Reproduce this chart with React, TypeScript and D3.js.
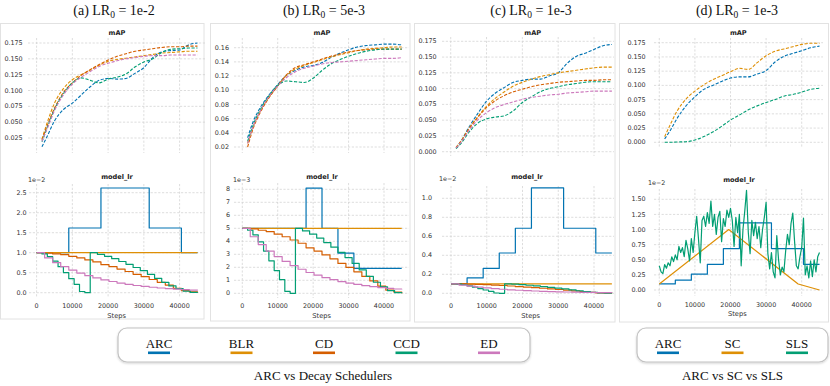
import React from 'react';
import * as d3 from 'd3';

// ---------- data ----------
const X_TICKS = [0, 10000, 20000, 30000, 40000];
const MAP_STEPS = [1500, 3000, 5000, 7500, 10000, 12500, 15000, 17500, 20000, 22500, 25000, 27500, 30000, 32500, 35000, 37500, 40000, 42500, 45000];

// (a) LR0 = 1e-2
const mapA_ARC = [0.011, 0.028, 0.052, 0.070, 0.080, 0.093, 0.106, 0.116, 0.119, 0.118, 0.119, 0.127, 0.136, 0.152, 0.161, 0.163, 0.164, 0.172, 0.175];
const mapA_BLR = [0.023, 0.050, 0.080, 0.103, 0.117, 0.125, 0.132, 0.140, 0.146, 0.149, 0.151, 0.153, 0.155, 0.157, 0.159, 0.160, 0.161, 0.162, 0.162];
const mapA_CD = [0.022, 0.045, 0.072, 0.097, 0.112, 0.124, 0.133, 0.141, 0.148, 0.154, 0.158, 0.162, 0.164, 0.166, 0.168, 0.169, 0.169, 0.170, 0.170];
const mapA_CCD = [0.019, 0.042, 0.070, 0.095, 0.112, 0.120, 0.116, 0.112, 0.118, 0.121, 0.126, 0.137, 0.145, 0.150, 0.160, 0.165, 0.166, 0.167, 0.167];
const mapA_ED = [0.020, 0.040, 0.068, 0.093, 0.110, 0.121, 0.130, 0.138, 0.143, 0.147, 0.150, 0.152, 0.154, 0.155, 0.155, 0.156, 0.156, 0.156, 0.156];

// (b) LR0 = 5e-3
const mapB_ARC = [0.033, 0.055, 0.075, 0.093, 0.108, 0.121, 0.128, 0.133, 0.135, 0.139, 0.146, 0.152, 0.157, 0.161, 0.163, 0.164, 0.165, 0.165, 0.164];
const mapB_BLR = [0.025, 0.048, 0.070, 0.090, 0.106, 0.121, 0.130, 0.135, 0.139, 0.143, 0.147, 0.150, 0.153, 0.156, 0.158, 0.159, 0.160, 0.161, 0.161];
const mapB_CD = [0.020, 0.045, 0.068, 0.089, 0.106, 0.122, 0.132, 0.136, 0.140, 0.144, 0.148, 0.151, 0.154, 0.156, 0.157, 0.158, 0.158, 0.158, 0.158];
const mapB_CCD = [0.028, 0.050, 0.072, 0.092, 0.107, 0.113, 0.112, 0.111, 0.117, 0.128, 0.137, 0.143, 0.148, 0.152, 0.155, 0.157, 0.158, 0.158, 0.158];
const mapB_ED = [0.025, 0.048, 0.070, 0.091, 0.106, 0.118, 0.126, 0.131, 0.134, 0.137, 0.139, 0.140, 0.141, 0.142, 0.143, 0.144, 0.145, 0.145, 0.146];

// (c) LR0 = 1e-3
const mapC_ARC = [0.006, 0.018, 0.038, 0.060, 0.080, 0.093, 0.102, 0.110, 0.113, 0.115, 0.115, 0.120, 0.125, 0.140, 0.151, 0.156, 0.162, 0.168, 0.170];
const mapC_BLR = [0.007, 0.018, 0.036, 0.055, 0.072, 0.085, 0.095, 0.104, 0.110, 0.115, 0.119, 0.122, 0.125, 0.127, 0.129, 0.131, 0.133, 0.134, 0.134];
const mapC_CD = [0.006, 0.017, 0.035, 0.054, 0.070, 0.081, 0.089, 0.095, 0.099, 0.103, 0.106, 0.108, 0.110, 0.111, 0.112, 0.113, 0.113, 0.114, 0.114];
const mapC_CCD = [0.005, 0.014, 0.030, 0.045, 0.052, 0.055, 0.057, 0.065, 0.078, 0.087, 0.095, 0.100, 0.103, 0.106, 0.108, 0.110, 0.111, 0.111, 0.111];
const mapC_ED = [0.006, 0.016, 0.033, 0.050, 0.062, 0.070, 0.075, 0.079, 0.083, 0.086, 0.088, 0.090, 0.091, 0.093, 0.094, 0.095, 0.096, 0.096, 0.096];

// (d) LR0 = 1e-3
const mapD_ARC = [0.006, 0.020, 0.042, 0.064, 0.080, 0.093, 0.100, 0.107, 0.113, 0.115, 0.115, 0.120, 0.126, 0.141, 0.151, 0.156, 0.161, 0.166, 0.169];
const mapD_SC = [0.010, 0.030, 0.055, 0.076, 0.090, 0.101, 0.110, 0.117, 0.124, 0.130, 0.128, 0.140, 0.152, 0.160, 0.164, 0.168, 0.172, 0.174, 0.174];
const mapD_SLS = [0.000, 0.000, 0.0005, 0.001, 0.004, 0.010, 0.018, 0.028, 0.039, 0.048, 0.057, 0.064, 0.070, 0.075, 0.081, 0.084, 0.088, 0.093, 0.095];

// learning-rate schedules (staircases)
const ARC_STEPS = [0, 4500, 9000, 13500, 18000, 22500, 27000, 31500, 36000, 40500, 45000];
const arcA_lr = [1.0, 1.0, 1.618, 1.618, 2.618, 2.618, 2.618, 1.618, 1.618, 1.0, 1.0];
const arcB_lr = [5, 5, 5, 5, 8.09, 5, 3.09, 1.91, 1.91, 1.91, 1.91];
const arcC_lr = [0.1, 0.162, 0.262, 0.424, 0.685, 1.109, 1.109, 0.685, 0.685, 0.424, 0.424];
const arcD_lr = [0.1, 0.162, 0.262, 0.424, 0.685, 1.109, 1.109, 0.685, 0.685, 0.424, 0.424];

const BLR_STEPS = [0, 45000];
const blrA_lr = [1.0, 1.0];
const blrB_lr = [5, 5];
const blrC_lr = [0.1, 0.1];

// shapes relative to LR0
const DECAY_STEPS = [0, 2250, 4500, 6750, 9000, 11250, 13500, 15750, 18000, 20250, 22500, 24750, 27000, 29250, 31500, 33750, 36000, 38250, 40500, 42750, 45000];
const cdShape = [1.0, 0.99, 0.97, 0.95, 0.91, 0.87, 0.82, 0.77, 0.70, 0.65, 0.59, 0.53, 0.46, 0.40, 0.33, 0.26, 0.19, 0.11, 0.05, 0.02, 0.0];
const edShape = [1.0, 0.87, 0.75, 0.65, 0.565, 0.49, 0.425, 0.37, 0.32, 0.28, 0.24, 0.21, 0.18, 0.157, 0.136, 0.118, 0.102, 0.088, 0.077, 0.066, 0.058];
const CCD_STEPS = [0, 1500, 3000, 4500, 6000, 7500, 9000, 10500, 12000, 13500, 15000, 17000, 19000, 21000, 23000, 25000, 27000, 29000, 31000, 33000, 35000, 37000, 39000, 41000, 43000, 45000];
const ccdShape = [1.0, 0.97, 0.90, 0.79, 0.65, 0.50, 0.35, 0.21, 0.03, 0.0, 1.0, 0.96, 0.91, 0.85, 0.78, 0.71, 0.63, 0.55, 0.46, 0.36, 0.26, 0.17, 0.10, 0.04, 0.01, 0.0];

const LR0_A = 1.0; // in 1e-2
const LR0_B = 5; // in 1e-3
const LR0_C = 0.1; // in 1e-2

const SC_STEPS = [0, 19500, 39000, 45000];
const sc_lr = [0.1, 1.0, 0.1, 0.0];

const SLS_STEPS = d3.range(0, 45001, 500);
const sls_lr = [
  0.40, 0.30, 0.27, 0.42, 0.36, 0.45, 0.40, 0.55, 0.47, 0.58,
  0.50, 0.72, 0.62, 0.70, 0.55, 0.82, 0.68, 0.48, 0.85, 0.62,
  0.95, 1.22, 0.85, 0.45, 1.15, 1.22, 1.05, 1.28, 1.10, 1.47,
  1.05, 1.25, 0.92, 1.20, 1.30, 0.80, 1.18, 1.05, 1.32, 1.20,
  1.35, 1.15, 0.72, 1.20, 0.95, 1.25, 0.40, 1.00, 1.30, 1.65,
  0.95, 0.60, 1.15, 0.90, 1.12, 0.85, 1.05, 0.70, 1.00, 1.20,
  1.45, 0.60, 0.35, 0.62, 0.30, 0.20, 0.90, 0.50, 0.25, 0.38,
  0.30, 0.65, 0.92, 0.75, 1.10, 1.27, 0.80, 0.40, 0.35, 0.55,
  0.70, 1.19, 0.25, 0.40, 0.20, 0.48, 0.22, 0.50, 0.30, 0.55,
  0.62,
];

const GROUP1 = ['ARC', 'BLR', 'CD', 'CCD', 'ED'];
const GROUP2 = ['ARC', 'SC', 'SLS'];

// ---------- style ----------
const C: Record<string, string> = {
  ARC: '#0173b2', BLR: '#de8f05', CD: '#d55e00', CCD: '#029e73', ED: '#cc78bc',
  SC: '#de8f05', SLS: '#029e73',
};
const SANS = 'DejaVu Sans, sans-serif';
const SERIF = 'Liberation Serif, Times New Roman, serif';
const TXT = '#333';

type Series = { pts: [number, number][]; color: string; dashed?: boolean; step?: boolean };

const zip = (xs: number[], ys: number[], k = 1): [number, number][] => xs.map((s, i) => [s, ys[i] * k]);

function Subplot(p: any) {
  const x = d3.scaleLinear().domain([0, 40000]).range(p.xr);
  const y = d3.scaleLinear().domain(p.yd).range(p.yr);
  const f = p.frame;
  const fmt = d3.format(p.fmt);
  return (
    <g>
      {p.yTicks.map((t: number) => (
        <g key={'y' + t}>
          <line x1={f.x0} x2={f.x1} y1={y(t)} y2={y(t)} stroke="#cfcfcf" strokeWidth={0.7} strokeDasharray="2.2,1.6" />
          <text x={p.labelRight} y={y(t)} dy="0.33em" textAnchor="end" fontSize={6.4} fontFamily={SANS} fill={TXT}>{fmt(t)}</text>
        </g>
      ))}
      {X_TICKS.map(t => (
        <g key={'x' + t}>
          <line x1={x(t)} x2={x(t)} y1={f.y0} y2={f.y1} stroke="#cfcfcf" strokeWidth={0.7} strokeDasharray="2.2,1.6" />
          {p.xLabelY != null && (
            <text x={x(t)} y={p.xLabelY} textAnchor="middle" fontSize={6.4} fontFamily={SANS} fill={TXT}>{t}</text>
          )}
        </g>
      ))}
      {p.series.map((s: Series, i: number) => {
        const line = d3.line<[number, number]>()
          .x(d => x(d[0]))
          .y(d => y(d[1]))
          .curve(s.step ? d3.curveStepAfter : s.dashed ? d3.curveMonotoneX : d3.curveLinear);
        return (
          <path key={i} d={line(s.pts) || ''} fill="none" stroke={s.color}
            strokeWidth={s.dashed ? 1.1 : 1.2} strokeDasharray={s.dashed ? '3.2,1.6' : undefined}
            strokeLinejoin="round" />
        );
      })}
      <text x={p.titleX} y={p.titleY} textAnchor="middle" fontSize={6.6} fontWeight="bold" fontFamily={SANS} fill="#222">{p.title}</text>
      {p.offset && (
        <text x={p.offset[0]} y={p.offset[1]} fontSize={6.4} fontFamily={SANS} fill={TXT}>{p.offset[2]}</text>
      )}
      {p.stepsX != null && (
        <text x={p.stepsX} y={p.stepsY} textAnchor="middle" fontSize={6.7} fontFamily={SANS} fill={TXT}>Steps</text>
      )}
    </g>
  );
}

const mapSeries = (arrs: number[][], names: string[]): Series[] =>
  arrs.map((a, i) => ({ pts: zip(MAP_STEPS, a), color: C[names[i]], dashed: true }));

const decaySeries = (arc: number[], blr: number[], lr0: number): Series[] => [
  { pts: zip(ARC_STEPS, arc), color: C.ARC, step: true },
  { pts: zip(BLR_STEPS, blr), color: C.BLR, step: true },
  { pts: zip(DECAY_STEPS, cdShape, lr0), color: C.CD, step: true },
  { pts: zip(CCD_STEPS, ccdShape, lr0), color: C.CCD, step: true },
  { pts: zip(DECAY_STEPS, edShape, lr0), color: C.ED, step: true },
];

function PanelTitle({ x, letter, lr }: { x: number; letter: string; lr: string }) {
  return (
    <text x={x} y={15} textAnchor="middle" fontSize={14} fontFamily={SERIF} fill="#111">
      {`(${letter}) LR`}
      <tspan fontSize={9.5} dy={3}>0</tspan>
      <tspan dy={-3}>{` = ${lr}`}</tspan>
    </text>
  );
}

function Legend({ names, x0, x1, cx0, cx1, title }: any) {
  const pos = d3.scalePoint<string>().domain(names).range([cx0, cx1]);
  return (
    <g>
      <rect x={x0} y={328} width={x1 - x0} height={34} rx={9} fill="#fff" stroke="#c2c2c2" strokeWidth={1.2} filter="url(#sh)" />
      {names.map((n: string) => (
        <g key={n}>
          <text x={pos(n)} y={348} textAnchor="middle" fontSize={13} fontFamily={SERIF} fill="#111">{n}</text>
          <rect x={(pos(n) as number) - 11} y={351.5} width={22} height={2.6} fill={C[n]} />
        </g>
      ))}
      <text x={(x0 + x1) / 2 + (title.length > 18 ? -1 : 0)} y={380} textAnchor="middle" fontSize={13} fontFamily={SERIF} fill="#111">{title}</text>
    </g>
  );
}

export default function App() {
  const yA_map = d3.range(0.025, 0.1751, 0.025);
  const yB_map = d3.range(0.02, 0.1601, 0.02);
  const yCD_map = d3.range(0, 0.1751, 0.025);
  return (
    <svg width={830} height={386} style={{ position: 'absolute', left: 0, top: 0, background: '#fff' }}>
      <defs>
        <filter id="sh" x="-5%" y="-20%" width="110%" height="150%">
          <feDropShadow dx="0" dy="1" stdDeviation="1" floodColor="#000" floodOpacity="0.18" />
        </filter>
      </defs>
      <rect x={0} y={0} width={830} height={386} fill="#fff" />

      {/* panel frames */}
      <rect x={0.5} y={23.5} width={203.5} height={295.5} fill="none" stroke="#e2e2e2" />
      <rect x={210.5} y={23.5} width={199.5} height={297.5} fill="none" stroke="#e2e2e2" />
      <rect x={414.5} y={23.5} width={200.5} height={298.5} fill="none" stroke="#e2e2e2" />
      <rect x={619.5} y={23.5} width={209} height={298.5} fill="none" stroke="#e2e2e2" />

      <PanelTitle x={114} letter="a" lr="1e-2" />
      <PanelTitle x={324} letter="b" lr="5e-3" />
      <PanelTitle x={531} letter="c" lr="1e-3" />
      <PanelTitle x={737} letter="d" lr="1e-3" />

      {/* (a) */}
      <Subplot frame={{ x0: 28, x1: 205, y0: 38, y1: 153 }} xr={[36.6, 179.6]} yd={[0.025, 0.175]} yr={[138, 43]}
        yTicks={yA_map} fmt=".3f" labelRight={22.7} title="mAP" titleX={117} titleY={34.5}
        series={mapSeries([mapA_ARC, mapA_BLR, mapA_CD, mapA_CCD, mapA_ED], GROUP1)} />
      <Subplot frame={{ x0: 29, x1: 205, y0: 184, y1: 298 }} xr={[36.6, 179.6]} yd={[0, 2.5]} yr={[292.7, 192.7]}
        yTicks={d3.range(0, 2.51, 0.5)} fmt=".1f" labelRight={26.7} title="model_lr" titleX={117} titleY={178.5}
        offset={[28, 182, '1e\u22122']} xLabelY={307.5} stepsX={116.7} stepsY={318}
        series={decaySeries(arcA_lr, blrA_lr, LR0_A)} />

      {/* (b) */}
      <Subplot frame={{ x0: 234, x1: 409, y0: 38, y1: 153 }} xr={[242.3, 384]} yd={[0.02, 0.16]} yr={[147, 47.7]}
        yTicks={yB_map} fmt=".2f" labelRight={229} title="mAP" titleX={322} titleY={34.5}
        series={mapSeries([mapB_ARC, mapB_BLR, mapB_CD, mapB_CCD, mapB_ED], GROUP1)} />
      <Subplot frame={{ x0: 234, x1: 409, y0: 183, y1: 298 }} xr={[242.3, 384]} yd={[0, 8]} yr={[293.3, 189.3]}
        yTicks={d3.range(0, 9, 1)} fmt="d" labelRight={230} title="model_lr" titleX={322} titleY={178.5}
        offset={[233, 182, '1e\u22123']} xLabelY={307.5} stepsX={321.7} stepsY={318}
        series={decaySeries(arcB_lr, blrB_lr, LR0_B)} />

      {/* (c) */}
      <Subplot frame={{ x0: 442, x1: 614, y0: 37, y1: 156 }} xr={[450.7, 594]} yd={[0, 0.175]} yr={[151.7, 41.3]}
        yTicks={yCD_map} fmt=".3f" labelRight={436.7} title="mAP" titleX={532.7} titleY={34.5}
        series={mapSeries([mapC_ARC, mapC_BLR, mapC_CD, mapC_CCD, mapC_ED], GROUP1)} />
      <Subplot frame={{ x0: 442, x1: 614, y0: 186, y1: 298 }} xr={[451, 594]} yd={[0, 1.0]} yr={[293.3, 198.3]}
        yTicks={d3.range(0, 1.01, 0.2)} fmt=".1f" labelRight={432} title="model_lr" titleX={527} titleY={178.5}
        offset={[439, 181, '1e\u22122']} xLabelY={307.5} stepsX={530.7} stepsY={318}
        series={decaySeries(arcC_lr, blrC_lr, LR0_C)} />

      {/* (d) */}
      <Subplot frame={{ x0: 654, x1: 823, y0: 38, y1: 147 }} xr={[659.3, 801.7]} yd={[0, 0.175]} yr={[142.3, 42.7]}
        yTicks={yCD_map} fmt=".3f" labelRight={645.7} title="mAP" titleX={738.3} titleY={34.5}
        series={mapSeries([mapD_ARC, mapD_SC, mapD_SLS], GROUP2)} />
      <Subplot frame={{ x0: 654, x1: 823, y0: 189, y1: 296 }} xr={[659.3, 801.7]} yd={[0, 1.5]} yr={[290, 199.3]}
        yTicks={d3.range(0, 1.51, 0.25)} fmt=".2f" labelRight={645.7} title="model_lr" titleX={739} titleY={181.5}
        offset={[648, 184.5, '1e\u22122']} xLabelY={306.5} stepsX={737.3} stepsY={316}
        series={[
          { pts: zip(ARC_STEPS, arcD_lr), color: C.ARC, step: true },
          { pts: zip(SC_STEPS, sc_lr), color: C.SC },
          { pts: zip(SLS_STEPS, sls_lr), color: C.SLS },
        ]} />

      <Legend names={GROUP1} x0={118} x1={530} cx0={159} cx1={489} title="ARC vs Decay Schedulers" />
      <Legend names={GROUP2} x0={637} x1={828} cx0={668} cx1={797} title="ARC vs SC vs SLS" />
    </svg>
  );
}
